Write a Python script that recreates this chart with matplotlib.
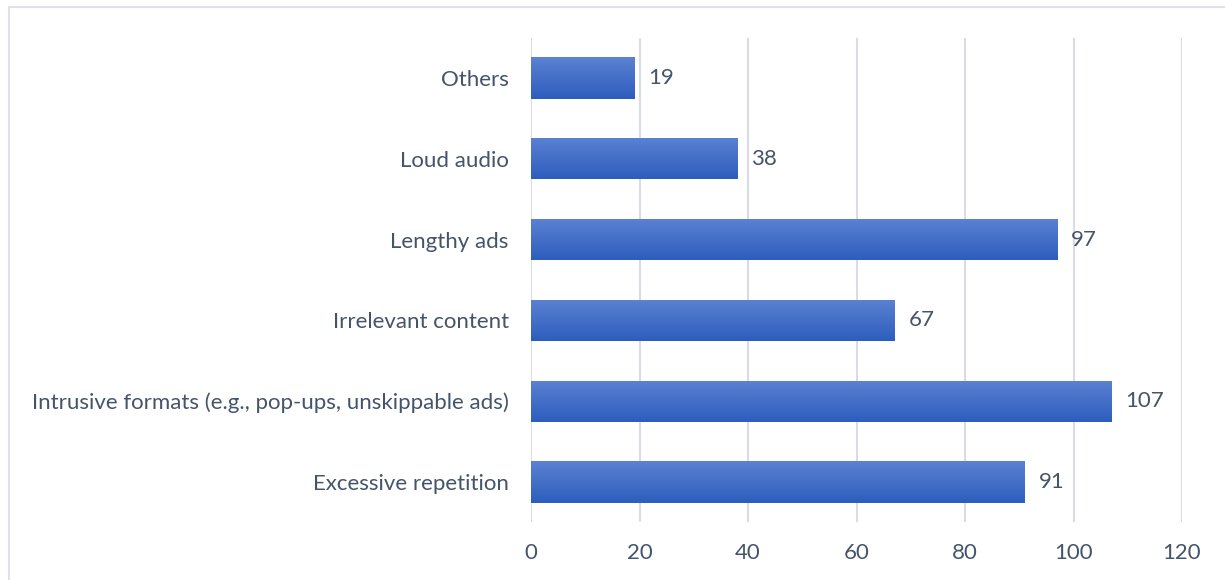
import numpy as np
import matplotlib
matplotlib.use("Agg")
import matplotlib.pyplot as plt
from matplotlib.patches import Rectangle
from matplotlib.colors import LinearSegmentedColormap

categories = [
    "Excessive repetition",
    "Intrusive formats (e.g., pop-ups, unskippable ads)",
    "Irrelevant content",
    "Lengthy ads",
    "Loud audio",
    "Others",
]
values = [91, 107, 67, 97, 38, 19]
xticks = [0, 20, 40, 60, 80, 100, 120]

text_color = "#44546a"
grid_color = "#d9dce6"
font_size = 16
plt.rcParams["font.family"] = ["Lato", "DejaVu Sans"]

fig = plt.figure(figsize=(12.25, 5.8), dpi=100)
W, H = 1225, 580
ax = fig.add_axes([531 / W, 1 - 522.4 / H, (1182 - 531) / W, (522.4 - 37.6) / H])

# outer chart frame
fig.patches.append(Rectangle((9 / W, -0.05), 1.2, 1 - 7 / H + 0.05,
                             transform=fig.transFigure, fill=False,
                             edgecolor="#dfe2ea", linewidth=1.5))

y = np.arange(len(categories))
bars = ax.barh(y, values, height=0.51, color="none", zorder=3)

grad_cmap = LinearSegmentedColormap.from_list("bar", ["#5b82d2", "#2d5dbd"])
grad = np.linspace(0, 1, 256).reshape(-1, 1)
for b, v in zip(bars, values):
    x0, y0 = b.get_x(), b.get_y()
    im = ax.imshow(grad, cmap=grad_cmap, aspect="auto", zorder=3,
                   extent=[x0, x0 + b.get_width(), y0, y0 + b.get_height()],
                   origin="upper", interpolation="bilinear")
    im.set_clip_path(b)
    ax.text(v + 2.6, b.get_y() + b.get_height() / 2, str(v), va="center",
            ha="left", fontsize=font_size, color=text_color, zorder=4)

ax.set_xlim(0, 120)
ax.set_ylim(-0.5, len(categories) - 0.5)
ax.set_xticks(xticks)
ax.set_xticklabels([str(t) for t in xticks])
ax.set_yticks(y)
ax.set_yticklabels(categories)
ax.tick_params(axis="both", length=0, labelsize=font_size, labelcolor=text_color)
ax.tick_params(axis="y", pad=16)
ax.tick_params(axis="x", pad=15)
ax.xaxis.grid(True, color=grid_color, linewidth=1.5, zorder=0)
ax.set_axisbelow(True)
for s in ax.spines.values():
    s.set_visible(False)

fig.savefig("out.png", dpi=100)
